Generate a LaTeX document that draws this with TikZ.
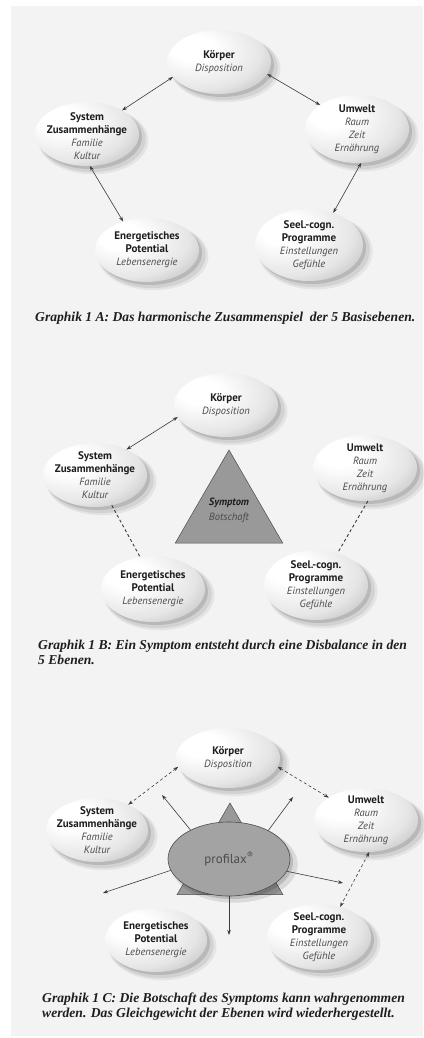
\documentclass[tikz,border=0pt]{standalone}
\usepackage{fontspec}
\usetikzlibrary{shapes.geometric,shadows,arrows.meta}
\newfontfamily\lblfont{PT Sans}
\newfontfamily\capfont{Liberation Serif}
\definecolor{bg}{HTML}{F3F3F3}
\definecolor{ttl}{HTML}{1E1E1E}
\definecolor{subg}{HTML}{4A4A4A}
\definecolor{lnc}{HTML}{3A3A3A}
\pgfdeclareradialshading{lvlshade}{\pgfpoint{-14bp}{12bp}}{color(0bp)=(white); color(10bp)=(white); color(30bp)=(black!10); color(48bp)=(black!32); color(62bp)=(black!54); color(76bp)=(black!64); color(100bp)=(black!66)}
\newcommand\subL[1]{{\fontsize{10.5}{12}\selectfont\mdseries\itshape\color{subg}#1}}
\begin{document}
\begin{tikzpicture}[x=1pt,y=-1pt,
  lvl/.style={ellipse, shade, shading=lvlshade, inner sep=0pt, outer sep=0pt,
    general shadow={shadow xshift=6pt,shadow yshift=-6pt,shadow scale=1.06,fill=black,opacity=.06},
    general shadow={shadow xshift=5pt,shadow yshift=-5pt,shadow scale=1.03,fill=black,opacity=.08},
    general shadow={shadow xshift=3pt,shadow yshift=-3pt,fill=black,opacity=.12}},
  lbl/.style={align=center, inner sep=0pt, text=ttl, font=\lblfont\bfseries\fontsize{11}{13}\selectfont},
  captxt/.style={inner sep=0pt, text=ttl, align=left, font=\capfont\bfseries\itshape\fontsize{13.6}{15}\selectfont},
  biarrow/.style={draw=lnc, line width=0.6pt, {Stealth[length=5pt,width=3.5pt]}-{Stealth[length=5pt,width=3.5pt]}},
  oneway/.style={draw=lnc, line width=0.6pt, -{Stealth[length=5pt,width=3.5pt]}},
  dashB/.style={draw=lnc, line width=0.9pt, dash pattern=on 3pt off 2.5pt},
  dashC/.style={biarrow, dash pattern=on 3pt off 2.5pt},
  symtri/.style={regular polygon, regular polygon sides=3, fill=black!40, draw=black!70, line width=0.5pt, inner sep=0pt},
  profell/.style={ellipse, fill=black!36, draw=black!70, line width=0.6pt, inner sep=0pt,
    general shadow={shadow xshift=5pt,shadow yshift=-5pt,shadow scale=1.04,fill=black,opacity=.10},
    general shadow={shadow xshift=3pt,shadow yshift=-3pt,fill=black,opacity=.14}}
]
\useasboundingbox (0,0) rectangle (423,1038);
\fill[white] (0,0) rectangle (423,1038);
\fill[bg] (11,6) rectangle (423,1036);

% ---------------- Panel A ----------------
\node[lvl, minimum width=104, minimum height=64] (kA) at (219,62) {};
\node[lvl, minimum width=104, minimum height=64] (sA) at (87,134) {};
\node[lvl, minimum width=104, minimum height=68] (uA) at (357,129) {};
\node[lvl, minimum width=104, minimum height=64] (eA) at (147,250) {};
\node[lvl, minimum width=108, minimum height=72] (pA) at (309,245) {};
\node[lbl] (kAt) at (kA) {Körper\\\subL{Disposition}};
\node[lbl] (sAt) at ([yshift=-2pt]sA) {System\\Zusammenhänge\\\subL{Familie}\\\subL{Kultur}};
\node[lbl] (uAt) at (uA) {Umwelt\\\subL{Raum}\\\subL{Zeit}\\\subL{Ernährung}};
\node[lbl] (eAt) at (eA) {Energetisches\\Potential\\\subL{Lebensenergie}};
\node[lbl] (pAt) at (pA) {Seel.-cogn.\\Programme\\\subL{Einstellungen}\\\subL{Gefühle}};
\draw[biarrow] (kA.198) -- (sA.34);
\draw[biarrow] (kA.346) -- (uA.147);
\draw[biarrow] (sA.275) -- (eA.130);
\draw[biarrow] (uA.277) -- (pA.53);
\node[captxt, anchor=base west] (capA) at (35,321) {Graphik 1 A: Das harmonische Zusammenspiel\ \ der 5 Basisebenen.};

% ---------------- Panel B ----------------
\node[lvl, minimum width=104, minimum height=64] (kB) at (226,405) {};
\node[lvl, minimum width=104, minimum height=64] (sB) at (95,475) {};
\node[lvl, minimum width=104, minimum height=66] (uB) at (365,468) {};
\node[lvl, minimum width=104, minimum height=66] (eB) at (153,589) {};
\node[lvl, minimum width=104, minimum height=70] (pB) at (316,585) {};
\node[lbl] (kBt) at (kB) {Körper\\\subL{Disposition}};
\node[lbl] (sBt) at (sB) {System\\Zusammenhänge\\\subL{Familie}\\\subL{Kultur}};
\node[lbl] (uBt) at (uB) {Umwelt\\\subL{Raum}\\\subL{Zeit}\\\subL{Ernährung}};
\node[lbl] (eBt) at (eB) {Energetisches\\Potential\\\subL{Lebensenergie}};
\node[lbl] (pBt) at (pB) {Seel.-cogn.\\Programme\\\subL{Einstellungen}\\\subL{Gefühle}};
\node[symtri, minimum size=124] (triB) at (229,512) {};
\node[lbl, font=\lblfont\fontsize{10.5}{15}\selectfont] (triBt) at (229,510) {\textbf{\textit{Symptom}}\\\subL{Botschaft}};
\draw[biarrow] (kB.194) -- (sB.39);
\draw[dashB] (sB.299) -- (eB.112);
\draw[dashB] (uB.275) -- (pB.56);
\node[captxt, anchor=base west] (capB) at (38,664) {Graphik 1 B: Ein Symptom entsteht durch eine Disbalance in den\\5 Ebenen.};

% ---------------- Panel C ----------------
\node[lvl, minimum width=104, minimum height=60] (kC) at (228,758) {};
\node[lvl, minimum width=102, minimum height=64] (sC) at (97,830) {};
\node[lvl, minimum width=104, minimum height=64] (uC) at (366,820) {};
\node[lvl, minimum width=102, minimum height=64] (eC) at (156,940) {};
\node[lvl, minimum width=104, minimum height=66] (pC) at (319,937) {};
\node[lbl] (kCt) at (kC) {Körper\\\subL{Disposition}};
\node[lbl] (sCt) at (sC) {System\\Zusammenhänge\\\subL{Familie}\\\subL{Kultur}};
\node[lbl] (uCt) at (uC) {Umwelt\\\subL{Raum}\\\subL{Zeit}\\\subL{Ernährung}};
\node[lbl] (eCt) at (eC) {Energetisches\\Potential\\\subL{Lebensenergie}};
\node[lbl] (pCt) at (pC) {Seel.-cogn.\\Programme\\\subL{Einstellungen}\\\subL{Gefühle}};
\node[symtri, minimum size=122] (triC) at (230,864) {};
\node[profell, minimum width=122, minimum height=74] (prof) at (229,859) {};
\node[inner sep=0pt, text=black!70, font=\lblfont\fontsize{13}{15}\selectfont] (profT) at (prof) {profilax\textsuperscript{®}};
\coordinate (tUL) at (162,795);
\coordinate (tUR) at (293,797);
\coordinate (tL) at (103,893);
\coordinate (tR) at (343,883);
\coordinate (tD) at (229,935);
\draw[oneway] (prof.143) -- (tUL);
\draw[oneway] (prof.36) -- (tUR);
\draw[oneway] (prof.191) -- (tL);
\draw[oneway] (prof.348) -- (tR);
\draw[oneway] (prof.270) -- (tD);
\draw[dashC] (kC.190) -- (sC.39);
\draw[dashC] (kC.350) -- (uC.149);
\draw[dashC] (uC.276) -- (pC.55);
\node[captxt, anchor=base west] (capC) at (42,1017) {Graphik 1 C: Die Botschaft des Symptoms kann wahrgenommen\\werden. Das Gleichgewicht der Ebenen wird wiederhergestellt.};
\end{tikzpicture}
\end{document}
